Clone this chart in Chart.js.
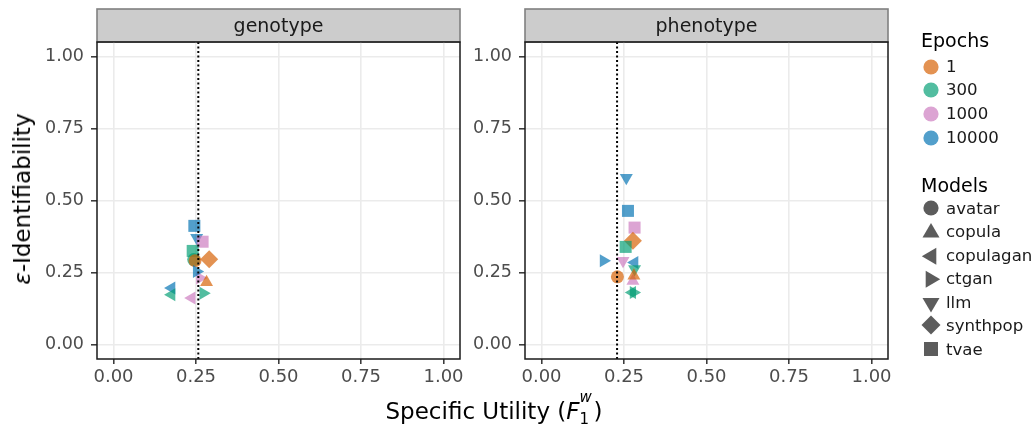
<!DOCTYPE html>
<html><head><meta charset="utf-8">
<script src="https://cdn.jsdelivr.net/npm/chart.js@4.4.0/dist/chart.umd.min.js"></script>
<style>
body{margin:0;background:#fff;}
#wrap{position:relative;width:1036px;height:427px;overflow:hidden;font-family:"DejaVu Sans",sans-serif;background:#fff;}
canvas{position:absolute;left:0;top:0;}
.lt{position:absolute;font-size:19px;color:#000;line-height:1;white-space:nowrap;transform:translateY(-50%);}
.li{position:absolute;font-size:16.6px;color:#1a1a1a;line-height:1;white-space:nowrap;transform:translateY(-50%);}
.ls{position:absolute;transform:translate(-50%,-50%);line-height:0;}
#ytitle{position:absolute;left:22px;top:199px;transform:translate(-50%,-50%) rotate(-90deg);font-size:23px;white-space:nowrap;color:#000;}
#xtitle{position:absolute;left:494px;top:399.5px;transform:translateX(-50%);font-size:23px;line-height:1;white-space:nowrap;color:#000;}
.ss{position:relative;display:inline-block;width:14px;height:0;vertical-align:baseline;}
.sup{position:absolute;left:0px;bottom:14px;font-size:15px;line-height:1;}
.sub{position:absolute;left:0px;bottom:-8px;font-size:15px;line-height:1;}
</style></head><body>
<div id="wrap">
<canvas id="c1" width="1036" height="427"></canvas>
<canvas id="c2" width="1036" height="427"></canvas>
<div id="legend"></div>
<div id="ytitle"><i>ε</i>-Identifiability</div>
<div id="xtitle">Specific Utility (<i>F</i><span class="ss"><i class="sup">w</i><span class="sub">1</span></span>)</div>
</div>
<script>
// ---- data ----
const tickValues = [0, 0.25, 0.5, 0.75, 1];
const tickLabels = ["0.00", "0.25", "0.50", "0.75", "1.00"];
const epochs = ["1", "300", "1000", "10000"];
const models = ["avatar", "copula", "copulagan", "ctgan", "llm", "synthpop", "tvae"];
const panels = ["genotype", "phenotype"];
const thresholds = [0.257, 0.229];

const genoModel = ["tvae","llm","tvae","tvae","avatar","avatar","synthpop","ctgan","ctgan","copula","copulagan","copulagan","ctgan","copulagan"];
const genoEpoch = ["10000","10000","1000","300","300","1","1","1000","10000","1","10000","300","300","1000"];
const genoX = [0.245,0.252,0.270,0.240,0.243,0.247,0.290,0.262,0.252,0.282,0.176,0.176,0.272,0.237];
const genoY = [0.412,0.371,0.357,0.325,0.295,0.291,0.296,0.231,0.254,0.216,0.196,0.173,0.178,0.162];

const phenoModel = ["llm","tvae","tvae","synthpop","tvae","ctgan","llm","copulagan","llm","avatar","copula","copula","copulagan","ctgan"];
const phenoEpoch = ["10000","10000","1000","1","300","10000","1000","10000","300","1","1000","1","300","300"];
const phenoX = [0.257,0.262,0.282,0.277,0.255,0.188,0.247,0.282,0.282,0.230,0.277,0.280,0.275,0.279];
const phenoY = [0.579,0.464,0.406,0.360,0.339,0.291,0.291,0.285,0.262,0.235,0.221,0.239,0.181,0.181];

// ---- styles ----
const epochColor = {"1":"rgba(213,94,0,0.68)","300":"rgba(0,158,115,0.68)","1000":"rgba(204,121,190,0.68)","10000":"rgba(0,114,178,0.68)"};
const shape = {
  avatar:{style:'circle',rot:0,r:6.5},
  copula:{style:'triangle',rot:0,r:7.5},
  copulagan:{style:'triangle',rot:-90,r:7.5},
  ctgan:{style:'triangle',rot:90,r:7.5},
  llm:{style:'triangle',rot:180,r:7.5},
  synthpop:{style:'rectRot',rot:0,r:9},
  tvae:{style:'rect',rot:0,r:8.5}
};
const FONT = '"DejaVu Sans", sans-serif';
const YW = 60, XH = 30, TOP = 42, BOTTOM = 359;

const panelPlugin = {
  id: 'panel',
  beforeDraw(chart, args, opts) {
    const a = chart.chartArea, ctx = chart.ctx;
    ctx.save();
    ctx.fillStyle = '#cccccc';
    ctx.fillRect(a.left, 9, a.right - a.left, a.top - 9);
    ctx.strokeStyle = '#808080';
    ctx.lineWidth = 1.6;
    ctx.strokeRect(a.left, 9, a.right - a.left, a.top - 9);
    ctx.fillStyle = '#1a1a1a';
    ctx.font = '19px ' + FONT;
    ctx.textAlign = 'center';
    ctx.textBaseline = 'middle';
    ctx.fillText(opts.title, (a.left + a.right) / 2, (9 + a.top) / 2 + 2);
    ctx.restore();
  },
  afterDraw(chart) {
    const a = chart.chartArea, ctx = chart.ctx;
    ctx.save();
    ctx.strokeStyle = '#1a1a1a';
    ctx.lineWidth = 1.5;
    ctx.strokeRect(a.left, a.top, a.right - a.left, a.bottom - a.top);
    ctx.restore();
  }
};

function makePanel(id, title, mArr, eArr, xArr, yArr, thr, left, right) {
  const pts = xArr.map((x, i) => ({x: x, y: yArr[i], model: mArr[i], epoch: eArr[i]}));
  new Chart(document.getElementById(id), {
    type: 'scatter',
    data: {
      datasets: [
        {
          type: 'line',
          data: [{x: thr, y: -0.05}, {x: thr, y: 1.05}],
          borderColor: '#000',
          borderWidth: 2,
          borderDash: [2, 2.5],
          pointRadius: 0,
          showLine: true,
          fill: false
        },
        {
          data: pts,
          pointStyle: c => shape[c.raw.model].style,
          pointRotation: c => shape[c.raw.model].rot,
          pointRadius: c => shape[c.raw.model].r,
          pointBackgroundColor: c => epochColor[c.raw.epoch],
          pointBorderWidth: 0,
          pointBorderColor: 'rgba(0,0,0,0)'
        }
      ]
    },
    options: {
      responsive: false,
      animation: false,
      events: [],
      layout: {padding: {left: left - YW, right: 1036 - right, top: TOP, bottom: 427 - BOTTOM - XH}},
      plugins: {legend: {display: false}, tooltip: {enabled: false}, panel: {title: title}},
      scales: {
        x: {
          type: 'linear', min: -0.05, max: 1.05,
          afterBuildTicks: s => { s.ticks = tickValues.map(v => ({value: v})); },
          afterFit: s => { s.height = XH; },
          ticks: {callback: (v) => tickLabels[tickValues.indexOf(v)], font: {family: FONT, size: 18}, color: '#4d4d4d', padding: 3, maxRotation: 0, autoSkip: false},
          grid: {color: '#ebebeb', lineWidth: 1.6, tickLength: 5, tickColor: '#333', tickWidth: 1.5},
          border: {display: false}
        },
        y: {
          type: 'linear', min: -0.05, max: 1.05,
          afterBuildTicks: s => { s.ticks = tickValues.map(v => ({value: v})); },
          afterFit: s => { s.width = YW; },
          ticks: {callback: (v) => tickLabels[tickValues.indexOf(v)], font: {family: FONT, size: 17.5}, color: '#4d4d4d', padding: 7, autoSkip: false},
          grid: {color: '#ebebeb', lineWidth: 1.6, tickLength: 6, tickColor: '#333', tickWidth: 1.5},
          border: {display: false}
        }
      }
    },
    plugins: [panelPlugin]
  });
}

makePanel('c1', panels[0], genoModel, genoEpoch, genoX, genoY, thresholds[0], 97, 460);
makePanel('c2', panels[1], phenoModel, phenoEpoch, phenoX, phenoY, thresholds[1], 525, 888);

// ---- legend ----
function shapeSVG(m, fill) {
  const s = shape[m];
  let inner;
  if (s.style === 'circle') inner = '<circle cx="10" cy="10" r="7.6" fill="' + fill + '"/>';
  else if (s.style === 'rect') inner = '<rect x="3" y="3" width="14" height="14" fill="' + fill + '"/>';
  else if (s.style === 'rectRot') inner = '<polygon points="10,0.5 19.5,10 10,19.5 0.5,10" fill="' + fill + '"/>';
  else inner = '<polygon points="10,2 18.5,16.5 1.5,16.5" fill="' + fill + '" transform="rotate(' + s.rot + ' 10 11.2)"/>';
  return '<svg width="20" height="20" viewBox="0 0 20 20" style="overflow:visible">' + inner + '</svg>';
}
const lg = document.getElementById('legend');
let html = '<div class="lt" style="left:921px;top:40px">Epochs</div>';
epochs.forEach((e, i) => {
  const y = 66.5 + i * 23.8;
  html += '<div class="ls" style="left:931px;top:' + y + 'px"><svg width="20" height="20" viewBox="0 0 20 20"><circle cx="10" cy="10" r="7.6" fill="' + epochColor[e] + '"/></svg></div>';
  html += '<div class="li" style="left:946px;top:' + y + 'px">' + e + '</div>';
});
html += '<div class="lt" style="left:921px;top:185px">Models</div>';
models.forEach((m, i) => {
  const y = 208.5 + i * 23.5;
  html += '<div class="ls" style="left:931px;top:' + (y - 1) + 'px">' + shapeSVG(m, 'rgba(0,0,0,0.64)') + '</div>';
  html += '<div class="li" style="left:946px;top:' + y + 'px">' + m + '</div>';
});
lg.innerHTML = html;
</script>
</body></html>
